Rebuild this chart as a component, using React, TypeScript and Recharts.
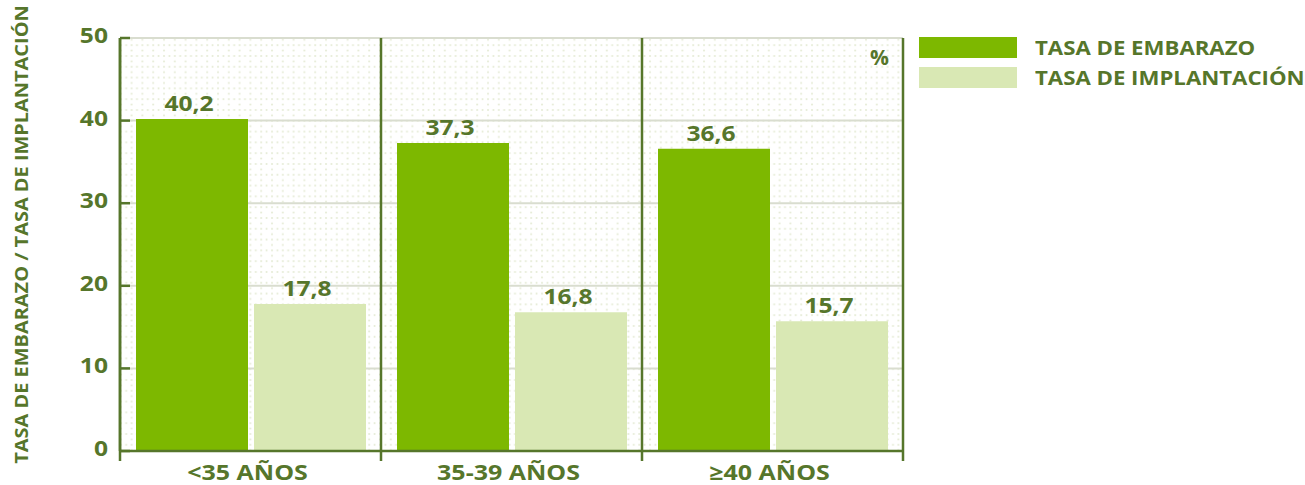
import React from 'react';
import { BarChart, Bar, XAxis, YAxis, CartesianGrid, LabelList, Label } from 'recharts';

const categories = ['<35 AÑOS', '35-39 AÑOS', '≥40 AÑOS'];
const embarazo = [40.2, 37.3, 36.6];
const implantacion = [17.8, 16.8, 15.7];
const yTicks = [0, 10, 20, 30, 40, 50];
const seriesNames = ['TASA DE EMBARAZO', 'TASA DE IMPLANTACIÓN'];
const yAxisTitle = 'TASA DE EMBARAZO / TASA DE IMPLANTACIÓN';
const unitLabel = '%';

const data = categories.map((c, i) => ({ cat: c, emb: embarazo[i], imp: implantacion[i] }));

const TEXT = '#56762b';
const DARK = '#7db800';
const LIGHT = '#d9e8b4';
const GRID = '#d9ddcf';
const DOT = '#e5ebd5';
const FONT = "'Open Sans', 'Noto Sans', sans-serif";

const fmt = (v: any) => String(v).replace('.', ',');

const SText = (p: any) => (
  <text
    transform={`translate(${p.x},${p.y}) ${p.rotate ? `rotate(${p.rotate})` : ''} scale(${p.sx},1)`}
    textAnchor={p.anchor}
    dominantBaseline={p.baseline}
    fill={TEXT}
    fontSize={p.size}
    fontWeight={700}
    fontFamily={FONT}
  >
    {p.children}
  </text>
);

const YTick = (props: any) => {
  const { x, y, payload } = props;
  const axisX = x + 12;
  return (
    <g>
      <line x1={axisX} x2={axisX + 10} y1={y} y2={y} stroke={TEXT} strokeWidth={2.5} />
      <SText x={x} y={y + 5} anchor="end" size={22} sx={1.12}>
        {payload.value}
      </SText>
    </g>
  );
};

const XTick = (props: any) => {
  const { x, y, payload } = props;
  return (
    <SText x={x - 3} y={y + 29} anchor="middle" size={21} sx={1.19}>
      {payload.value}
    </SText>
  );
};

const BarLabel = (props: any) => {
  const { x, y, width, value } = props;
  return (
    <SText x={x + width / 2 - 3} y={y - 8} anchor="middle" size={20.5} sx={1.2}>
      {fmt(value)}
    </SText>
  );
};

const vGen = (args: any) => {
  const { offset } = args;
  const n = categories.length;
  const xAxis = args.xAxis;
  const s = xAxis && xAxis.scale;
  try {
    if (typeof s === 'function' && typeof s.bandwidth === 'function') {
      const bw = s.bandwidth();
      const pts: number[] = categories.map((c) => s(c));
      pts.push(pts[pts.length - 1] + bw);
      if (pts.every((p) => typeof p === 'number' && !isNaN(p))) return pts;
    }
  } catch (e) {
    // fall through
  }
  return Array.from({ length: n + 1 }, (_, i) => offset.left + (i * offset.width) / n);
};

const vLine = (p: any) => (
  <line key={p.key ?? `${p.x1}`} x1={p.x1} x2={p.x2} y1={p.y1} y2={p.y2 + 10} stroke={TEXT} strokeWidth={2.5} />
);

const YTitle = (props: any) => {
  const vb = props.viewBox || { y: 38, height: 413 };
  return (
    <SText x={21} y={vb.y + vb.height / 2 - 10} rotate={-90} anchor="middle" baseline="central" size={17.5} sx={1.14}>
      {yAxisTitle}
    </SText>
  );
};

const seriesColors = [DARK, LIGHT];

export default function App() {
  return (
    <div style={{ position: 'absolute', left: 0, top: 0, width: 1305, height: 485, background: '#fff' }}>
      <svg width={0} height={0} style={{ position: 'absolute' }}>
        <defs>
          <pattern id="dotpat" width={10.8} height={10.8} patternUnits="userSpaceOnUse">
            <rect width={10.8} height={10.8} fill="#ffffff" />
            <circle cx={2} cy={2} r={1} fill={DOT} />
            <circle cx={7.4} cy={2} r={1} fill={DOT} />
            <circle cx={2} cy={7.4} r={1} fill={DOT} />
          </pattern>
        </defs>
      </svg>
      <BarChart
        width={1305}
        height={485}
        data={data}
        margin={{ top: 38, right: 402, bottom: 0, left: 0 }}
        barCategoryGap={16}
        barGap={6}
      >
        <CartesianGrid horizontal={true} vertical={false} stroke={GRID} strokeWidth={2} fill="url(#dotpat)" />
        <CartesianGrid horizontal={false} vertical={vLine} verticalCoordinatesGenerator={vGen} />
        <XAxis
          dataKey="cat"
          height={34}
          tickSize={0}
          tickMargin={0}
          tickLine={false}
          axisLine={{ stroke: TEXT, strokeWidth: 2.5 }}
          tick={<XTick />}
          interval={0}
        />
        <YAxis
          width={120}
          domain={[0, 50]}
          ticks={yTicks}
          interval={0}
          tickSize={0}
          tickMargin={12}
          tickLine={false}
          axisLine={{ stroke: TEXT, strokeWidth: 2.5 }}
          tick={<YTick />}
        >
          <Label content={<YTitle />} />
        </YAxis>
        <Bar dataKey="emb" fill={DARK} isAnimationActive={false}>
          <LabelList dataKey="emb" content={<BarLabel />} />
        </Bar>
        <Bar dataKey="imp" fill={LIGHT} isAnimationActive={false}>
          <LabelList dataKey="imp" content={<BarLabel />} />
        </Bar>
      </BarChart>
      <div
        style={{
          position: 'absolute',
          left: 870,
          top: 45,
          color: TEXT,
          fontFamily: FONT,
          fontWeight: 700,
          fontSize: 21,
          lineHeight: '24px',
        }}
      >
        {unitLabel}
      </div>
      <div style={{ position: 'absolute', left: 919, top: 37, fontFamily: FONT }}>
        {seriesNames.map((name, i) => (
          <div key={name} style={{ display: 'flex', alignItems: 'center', height: 21, marginBottom: 9 }}>
            <div style={{ width: 98, height: 21, background: seriesColors[i], flex: 'none' }} />
            <div
              style={{
                marginLeft: 18,
                color: TEXT,
                fontWeight: 700,
                fontSize: 20,
                lineHeight: '21px',
                whiteSpace: 'nowrap',
                transform: 'scaleX(1.11)',
                transformOrigin: 'left center',
              }}
            >
              {name}
            </div>
          </div>
        ))}
      </div>
    </div>
  );
}
